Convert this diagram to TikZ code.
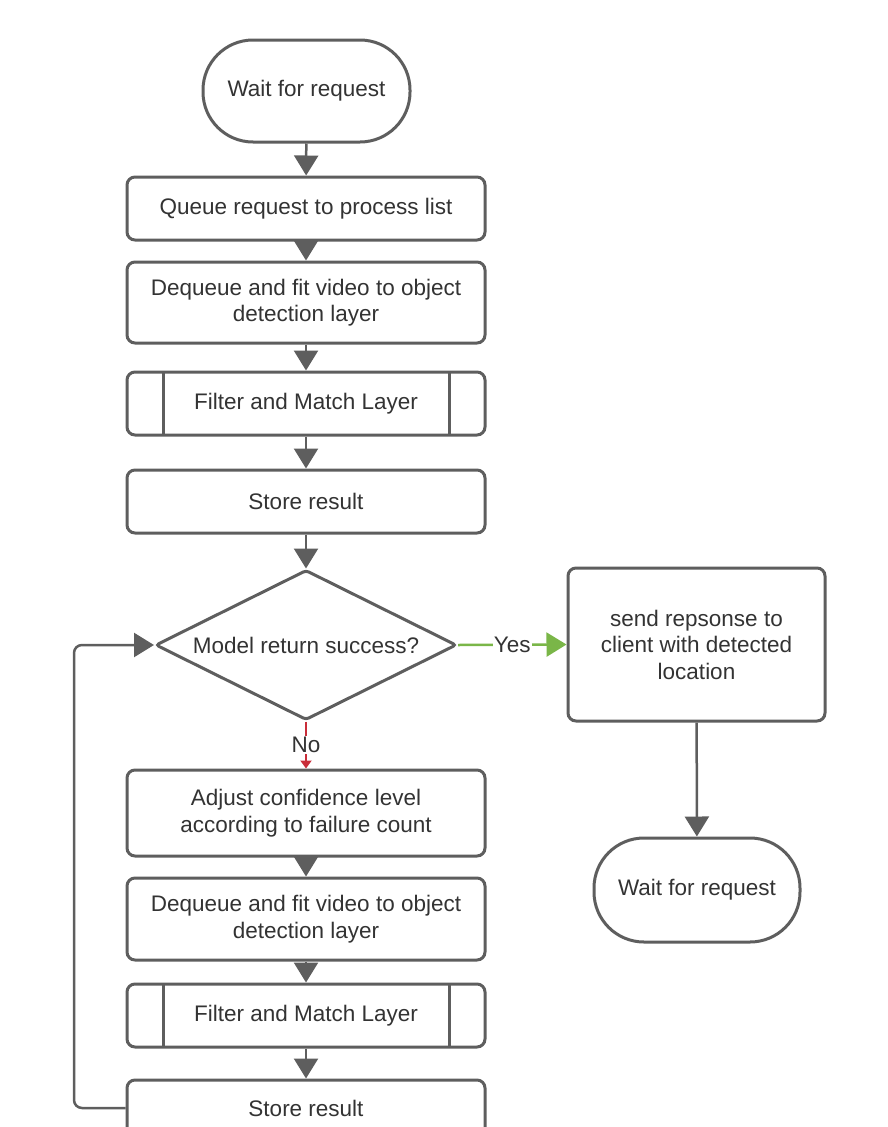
\documentclass[tikz,border=0pt]{standalone}
\usepackage{fontspec}
\setmainfont{Liberation Sans}
\usetikzlibrary{shapes.geometric,arrows.meta}
\definecolor{lineGray}{HTML}{5E5E5E}
\definecolor{textGray}{HTML}{333333}
\definecolor{yesGreen}{HTML}{7AB648}
\definecolor{noRed}{HTML}{C92D39}

\begin{document}
\begin{tikzpicture}[x=1pt,y=-1pt,
  every node/.style={font=\fontsize{22.5}{26.5}\selectfont, text=textGray},
  stepbox/.style={draw=lineGray, line width=3pt, rounded corners=8pt, fill=white,
    align=center, minimum width=358pt, inner sep=0pt},
  subproc/.style={stepbox, minimum height=63pt,
    path picture={
      \draw[lineGray, line width=3pt]
        ([xshift=36pt]path picture bounding box.north west) -- ([xshift=36pt]path picture bounding box.south west)
        ([xshift=-36pt]path picture bounding box.north east) -- ([xshift=-36pt]path picture bounding box.south east);
    }},
  terminal/.style={draw=lineGray, line width=3pt, rounded corners=50pt, fill=white,
    minimum width=207pt, minimum height=102pt, inner sep=0pt, align=center},
  decision/.style={draw=lineGray, line width=3pt, shape=diamond, aspect=2, inner sep=0pt,
    rounded corners=3pt, minimum width=301pt, minimum height=150pt},
  conn/.style={draw=lineGray, line width=2.5pt, -{Triangle[length=20pt,width=24pt]}},
  yesline/.style={draw=yesGreen, line width=2.5pt, -{Triangle[length=20pt,width=24pt]}},
  noline/.style={draw=noRed, line width=2.5pt, -{Triangle[length=8pt,width=11pt]}},
  lbl/.style={fill=white, inner sep=1pt}
]
\useasboundingbox (0,0) rectangle (888,1127);
\clip (0,0) rectangle (888,1127);

% main column
\node[terminal] (start) at (306.5,91) {Wait for request};
\node[stepbox, minimum height=63pt] (queue) at (306,208.5) {Queue request to process list};
\node[stepbox, minimum height=81pt] (fit1) at (306,302.5) {Dequeue and fit video to object\\detection layer};
\node[subproc] (filter1) at (306,403.5) {Filter and Match Layer};
\node[stepbox, minimum height=63pt] (store1) at (306,501.5) {Store result};
\node[decision] (check) at (306,645) {};
\node at (check) {Model return success?};

% success branch
\node[stepbox, minimum width=257pt, minimum height=153pt] (reply) at (696.5,644.5)
  {send repsonse to\\client with detected\\location};
\node[terminal, minimum width=206pt, minimum height=104pt] (end) at (697,890) {Wait for request};

% retry branch
\node[stepbox, minimum height=86pt] (adjust) at (306,813) {Adjust confidence level\\according to failure count};
\node[stepbox, minimum height=82pt] (fit2) at (306,919) {Dequeue and fit video to object\\detection layer};
\node[subproc] (filter2) at (306,1015.5) {Filter and Match Layer};
\node[stepbox, minimum height=56pt] (store2) at (306,1108) {Store result};
\coordinate (loopx) at (74,0);

% connectors
\draw[conn] (start) -- (queue);
\draw[conn] (queue) -- (fit1);
\draw[conn] (fit1) -- (filter1);
\draw[conn] (filter1) -- (store1);
\draw[conn] (store1) -- (check.north);
\draw[yesline] (check.east) -- node[lbl] {Yes} (reply.west);
\draw[conn] (reply) -- (end);
\draw[noline] (check.south) -- node[lbl] {No} (adjust.north);
\draw[conn] (adjust) -- (fit2);
\draw[conn] (fit2) -- (filter2);
\draw[conn] (filter2) -- (store2);
\draw[conn, rounded corners=8pt] (store2.west) -- (store2.west -| loopx) |- (check.west);
\end{tikzpicture}
\end{document}
